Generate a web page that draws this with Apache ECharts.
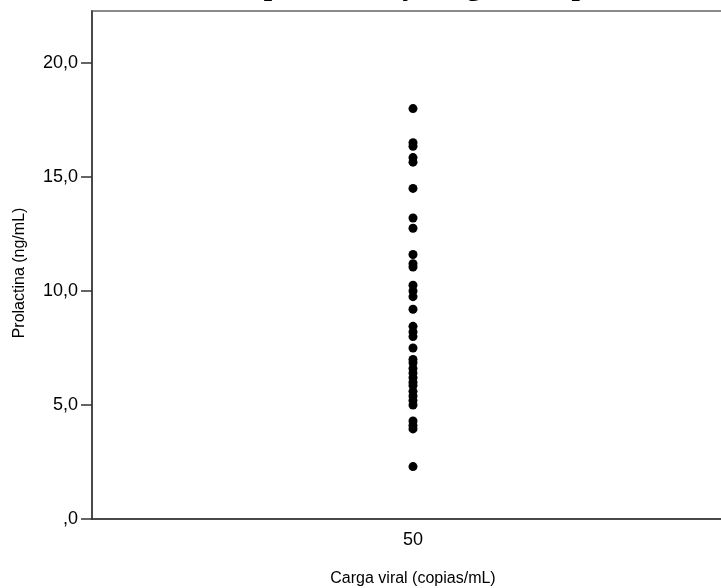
<!DOCTYPE html>
<html>
<head>
<meta charset="utf-8">
<script src="https://cdn.jsdelivr.net/npm/echarts@6/dist/echarts.min.js"></script>
<style>
  html, body { margin: 0; padding: 0; background: #fff; }
  #chart { width: 721px; height: 588px; }
</style>
</head>
<body>
<div id="chart"></div>
<script>
// data
const categories = ['50'];
const prolactina = [
	18.0, 16.5, 16.35, 15.85, 15.65, 14.5, 13.2, 12.75, 11.6, 11.2, 11.05,
	10.25, 10.0, 9.75, 9.2, 8.45, 8.2, 8.0, 7.5, 7.0, 6.85, 6.6, 6.4, 6.2,
	6.0, 5.85, 5.6, 5.4, 5.2, 5.0, 4.3, 4.1, 3.95, 2.3
];
const yTicks = [0, 5, 10, 15, 20];

const points = prolactina.map((v) => [categories[0], v]);

const myChart = echarts.init(document.getElementById('chart'));

const labelFont = { fontFamily: 'Liberation Sans', fontSize: 18, color: '#000' };
const nameFont = { fontFamily: 'Liberation Sans', fontSize: 16, color: '#000' };

myChart.setOption({
	animation: false,
	// title is cut off at the top edge, only the descenders show
	title: {
		text: 'Relación entre prolactina y carga viral plasmática',
		left: 66,
		top: -33,
		textStyle: { fontFamily: 'Liberation Serif', fontWeight: 'bold', fontSize: 30, color: '#000' }
	},
	grid: {
		left: 92,
		top: 11,
		bottom: 69,
		width: 642,
		outerBoundsMode: 'none',
		containLabel: false,
		show: true,
		borderColor: '#8a8a8a',
		borderWidth: 2
	},
	xAxis: {
		type: 'category',
		data: categories,
		boundaryGap: true,
		name: 'Carga viral (copias/mL)',
		nameLocation: 'middle',
		nameGap: 52,
		nameTextStyle: nameFont,
		axisLine: { lineStyle: { color: '#333', width: 1.5 } },
		axisTick: { alignWithLabel: true, length: 9, lineStyle: { color: '#333', width: 1.5 } },
		axisLabel: Object.assign({ margin: 12 }, labelFont),
		splitLine: { show: false }
	},
	yAxis: {
		type: 'value',
		min: 0,
		max: 22.28,
		interval: 5,
		name: 'Prolactina (ng/mL)',
		nameLocation: 'middle',
		nameGap: 64,
		nameTextStyle: Object.assign({ padding: [0, 16, 0, 0] }, nameFont),
		axisLine: { show: true, lineStyle: { color: '#333', width: 1.5 } },
		axisTick: { show: true, length: 11, lineStyle: { color: '#333', width: 1.5 } },
		axisLabel: Object.assign({
			margin: 14,
			showMaxLabel: false,
			formatter: (v) => {
				if (yTicks.indexOf(v) === -1) {
					return '';
				}
				return v === 0 ? ',0' : v.toFixed(1).replace('.', ',');
			}
		}, labelFont),
		splitLine: { show: false }
	},
	series: [
		{
			type: 'scatter',
			data: points,
			symbol: 'circle',
			symbolSize: 9,
			itemStyle: { color: '#000', opacity: 1 }
		}
	]
});
</script>
</body>
</html>
